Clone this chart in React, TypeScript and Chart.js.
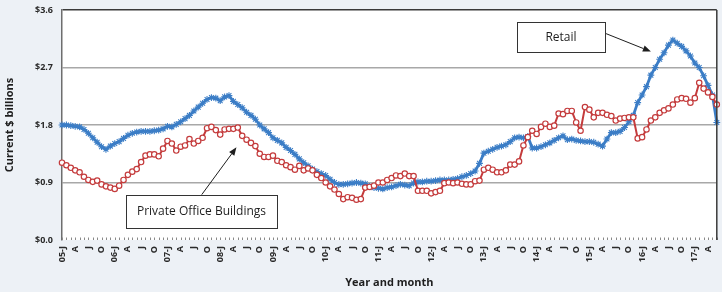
import React, { useEffect, useRef } from 'react';
import { Chart, registerables } from 'chart.js';

Chart.register(...registerables);

// ---- data ----
const years = ['05', '06', '07', '08', '09', '10', '11', '12', '13', '14', '15', '16', '17'];
const quarterLetters = ['J', 'A', 'J', 'O'];

// Retail, monthly from Jan 2005 (current $ billions)
const retail = [
  1.80, 1.80, 1.79, 1.78, 1.77, 1.73, 1.67, 1.60, 1.53, 1.46, 1.42, 1.47,
  1.51, 1.54, 1.59, 1.64, 1.67, 1.69, 1.70, 1.70, 1.70, 1.71, 1.72, 1.74,
  1.78, 1.77, 1.81, 1.85, 1.90, 1.95, 2.02, 2.08, 2.14, 2.20, 2.23, 2.22,
  2.18, 2.24, 2.26, 2.17, 2.12, 2.07, 2.00, 1.95, 1.89, 1.80, 1.74, 1.68,
  1.60, 1.56, 1.52, 1.45, 1.40, 1.34, 1.27, 1.21, 1.16, 1.11, 1.07, 1.04,
  1.01, 0.95, 0.90, 0.87, 0.87, 0.88, 0.89, 0.90, 0.89, 0.88, 0.84, 0.82,
  0.81, 0.80, 0.82, 0.83, 0.85, 0.87, 0.86, 0.85, 0.89, 0.91, 0.91, 0.92,
  0.92, 0.93, 0.94, 0.94, 0.94, 0.95, 0.96, 0.99, 1.01, 1.04, 1.08, 1.20,
  1.36, 1.39, 1.42, 1.45, 1.47, 1.49, 1.54, 1.60, 1.61, 1.60, 1.62, 1.44,
  1.44, 1.46, 1.49, 1.52, 1.56, 1.60, 1.63, 1.57, 1.58, 1.56, 1.55, 1.54,
  1.54, 1.53, 1.50, 1.47, 1.58, 1.68, 1.68, 1.70, 1.76, 1.85, 1.95, 2.15,
  2.27, 2.40, 2.58, 2.70, 2.83, 2.93, 3.05, 3.13, 3.08, 3.03, 2.96, 2.88,
  2.77, 2.70, 2.57, 2.42, 2.27, 1.84,
];

// Private office buildings, monthly from Jan 2005 (current $ billions)
const privateOffice = [
  1.21, 1.17, 1.13, 1.09, 1.06, 0.99, 0.94, 0.91, 0.93, 0.87, 0.84, 0.82,
  0.80, 0.85, 0.94, 1.02, 1.07, 1.11, 1.22, 1.32, 1.34, 1.34, 1.31, 1.43,
  1.55, 1.51, 1.40, 1.46, 1.48, 1.58, 1.51, 1.55, 1.60, 1.75, 1.77, 1.72,
  1.65, 1.73, 1.74, 1.74, 1.76, 1.63, 1.57, 1.52, 1.47, 1.35, 1.30, 1.30,
  1.32, 1.24, 1.22, 1.17, 1.14, 1.10, 1.16, 1.09, 1.12, 1.09, 1.02, 0.97,
  0.90, 0.84, 0.79, 0.72, 0.64, 0.67, 0.66, 0.63, 0.64, 0.82, 0.83, 0.85,
  0.90, 0.90, 0.94, 0.97, 1.01, 1.00, 1.04, 1.00, 1.00, 0.77, 0.77, 0.77,
  0.73, 0.75, 0.77, 0.89, 0.90, 0.89, 0.90, 0.88, 0.87, 0.87, 0.92, 0.93,
  1.10, 1.13, 1.10, 1.06, 1.06, 1.09, 1.18, 1.18, 1.23, 1.48, 1.61, 1.71,
  1.66, 1.77, 1.82, 1.77, 1.79, 1.98, 1.97, 2.02, 2.02, 1.84, 1.71, 2.08,
  2.04, 1.92, 1.99, 1.99, 1.96, 1.94, 1.87, 1.90, 1.91, 1.92, 1.92, 1.59,
  1.61, 1.73, 1.87, 1.92, 1.99, 2.03, 2.06, 2.12, 2.20, 2.22, 2.21, 2.15,
  2.22, 2.46, 2.37, 2.31, 2.24, 2.12,
];

const yTicks = [0, 0.9, 1.8, 2.7, 3.6];

// annotation call-outs, in data space: [monthIndex, value]
const annotations = [
  { text: 'Retail', box: [103.5, 3.42, 123.6, 2.95], from: [123.8, 3.23], to: [134.0, 2.95] },
  { text: 'Private Office Buildings', box: [14.6, 0.71, 48.9, 0.2], from: [31.8, 0.71], to: [39.7, 1.45] },
];

const categories: string[] = [];
years.forEach((yy) => {
  for (let m = 0; m < 12; m++) {
    if (m % 3 !== 0) categories.push('');
    else if (m === 0) categories.push(`${yy}-J`);
    else categories.push(quarterLetters[m / 3]);
  }
});
const labels = categories.slice(0, retail.length);

const BG = '#edf1f6';
const BLUE = '#3b7dc6';
const RED = '#c43b3c';
const FONT = "'Open Sans', 'DejaVu Sans', sans-serif";

const framePlugin = {
  id: 'frame',
  beforeDraw(chart: any) {
    const { ctx, chartArea: a, width, height } = chart;
    ctx.save();
    ctx.fillStyle = BG;
    ctx.fillRect(0, 0, width, height);
    ctx.fillStyle = '#ffffff';
    ctx.fillRect(a.left, a.top, a.right - a.left, a.bottom - a.top);
    ctx.restore();
  },
  afterDraw(chart: any) {
    const { ctx, chartArea: a, scales } = chart;
    const xs = scales.x;
    const ys = scales.y;
    ctx.save();
    // monthly tick marks along the bottom
    ctx.strokeStyle = '#8a8a8a';
    ctx.lineWidth = 1;
    for (let i = 0; i < labels.length; i++) {
      const px = Math.round(xs.getPixelForValue(i)) + 0.5;
      ctx.beginPath();
      ctx.moveTo(px, a.bottom - 2.5);
      ctx.lineTo(px, a.bottom);
      ctx.stroke();
    }
    // right border
    ctx.strokeStyle = '#3a3a3a';
    ctx.lineWidth = 1.5;
    ctx.beginPath();
    ctx.moveTo(a.right, a.top);
    ctx.lineTo(a.right, a.bottom);
    ctx.stroke();

    // call-outs
    annotations.forEach((an) => {
      const x1 = xs.getPixelForValue(an.box[0]);
      const y1 = ys.getPixelForValue(an.box[1]);
      const x2 = xs.getPixelForValue(an.box[2]);
      const y2 = ys.getPixelForValue(an.box[3]);
      ctx.fillStyle = '#ffffff';
      ctx.fillRect(x1, y1, x2 - x1, y2 - y1);
      ctx.strokeStyle = '#333333';
      ctx.lineWidth = 1;
      ctx.strokeRect(Math.round(x1) + 0.5, Math.round(y1) + 0.5, Math.round(x2 - x1), Math.round(y2 - y1));
      ctx.fillStyle = '#1e1e1e';
      ctx.font = `12px ${FONT}`;
      ctx.textAlign = 'center';
      ctx.textBaseline = 'middle';
      ctx.fillText(an.text, (x1 + x2) / 2, (y1 + y2) / 2 + 1);

      const fx = xs.getPixelForValue(an.from[0]);
      const fy = ys.getPixelForValue(an.from[1]);
      const tx = xs.getPixelForValue(an.to[0]);
      const ty = ys.getPixelForValue(an.to[1]);
      const ang = Math.atan2(ty - fy, tx - fx);
      const headL = 8;
      const headW = 3.2;
      const bx = tx - headL * Math.cos(ang);
      const by = ty - headL * Math.sin(ang);
      ctx.strokeStyle = '#1e1e1e';
      ctx.lineWidth = 1;
      ctx.beginPath();
      ctx.moveTo(fx, fy);
      ctx.lineTo(bx, by);
      ctx.stroke();
      ctx.fillStyle = '#1e1e1e';
      ctx.beginPath();
      ctx.moveTo(tx, ty);
      ctx.lineTo(bx + headW * Math.sin(ang), by - headW * Math.cos(ang));
      ctx.lineTo(bx - headW * Math.sin(ang), by + headW * Math.cos(ang));
      ctx.closePath();
      ctx.fill();
    });
    ctx.restore();
  },
};

export default function App() {
  const ref = useRef<HTMLCanvasElement | null>(null);

  useEffect(() => {
    if (!ref.current) return;
    const chart = new Chart(ref.current, {
      type: 'line',
      data: {
        labels,
        datasets: [
          {
            label: 'Private Office Buildings',
            data: privateOffice,
            borderColor: RED,
            backgroundColor: '#ffffff',
            borderWidth: 2,
            pointStyle: 'circle',
            pointRadius: 2.7,
            pointBorderWidth: 1.2,
            pointBorderColor: RED,
            pointBackgroundColor: '#ffffff',
            tension: 0,
            order: 0,
          },
          {
            label: 'Retail',
            data: retail,
            borderColor: BLUE,
            backgroundColor: BLUE,
            borderWidth: 2.8,
            pointStyle: 'star',
            pointRadius: 3.4,
            pointBorderWidth: 1.1,
            pointBorderColor: BLUE,
            tension: 0,
            order: 1,
          },
        ],
      },
      options: {
        responsive: false,
        animation: false,
        devicePixelRatio: 1,
        layout: { padding: { left: 0, right: 1, top: 10, bottom: 0 } },
        plugins: {
          legend: { display: false },
          tooltip: { enabled: false },
        },
        scales: {
          x: {
            type: 'category',
            offset: false,
            grid: { display: false, drawTicks: false },
            border: { display: false },
            ticks: {
              autoSkip: false,
              minRotation: 90,
              maxRotation: 90,
              padding: 6,
              color: '#2a2a2a',
              font: { family: FONT, size: 9, weight: 'bold' },
            },
            title: {
              display: true,
              text: 'Year and month',
              color: '#1e1e1e',
              font: { family: FONT, size: 11, weight: 'bold' },
              padding: { top: 0, bottom: 3 },
            },
            afterFit(scale: any) {
              scale.height = 52;
              scale.paddingLeft = 0;
              scale.paddingRight = 0;
            },
          },
          y: {
            min: 0,
            max: 3.6,
            afterBuildTicks(scale: any) {
              scale.ticks = yTicks.map((v) => ({ value: v }));
            },
            grid: {
              drawTicks: false,
              color: (c: any) =>
                c.tick && c.tick.value === 3.6 ? '#3a3a3a' : c.tick && c.tick.value === 0 ? 'rgba(0,0,0,0)' : '#a8a8a8',
              lineWidth: 1.5,
            },
            border: { display: true, color: '#6e6e6e', width: 1.5 },
            ticks: {
              padding: 9,
              color: '#2a2a2a',
              font: { family: FONT, size: 9, weight: 'bold' },
              callback: (v: any) => '$' + Number(v).toFixed(1),
            },
            title: {
              display: true,
              text: 'Current $ billions',
              color: '#1e1e1e',
              font: { family: FONT, size: 11, weight: 'bold' },
              padding: { top: 3, bottom: 0 },
            },
            afterFit(scale: any) {
              scale.width = 62;
              scale.paddingTop = 0;
              scale.paddingBottom = 0;
            },
          },
        },
      },
      plugins: [framePlugin],
    });
    return () => chart.destroy();
  }, []);

  return (
    <div style={{ position: 'fixed', left: 0, top: 0, width: 722, height: 292, background: BG, overflow: 'hidden' }}>
      <canvas ref={ref} width={722} height={292} style={{ width: 722, height: 292, display: 'block' }} />
    </div>
  );
}
